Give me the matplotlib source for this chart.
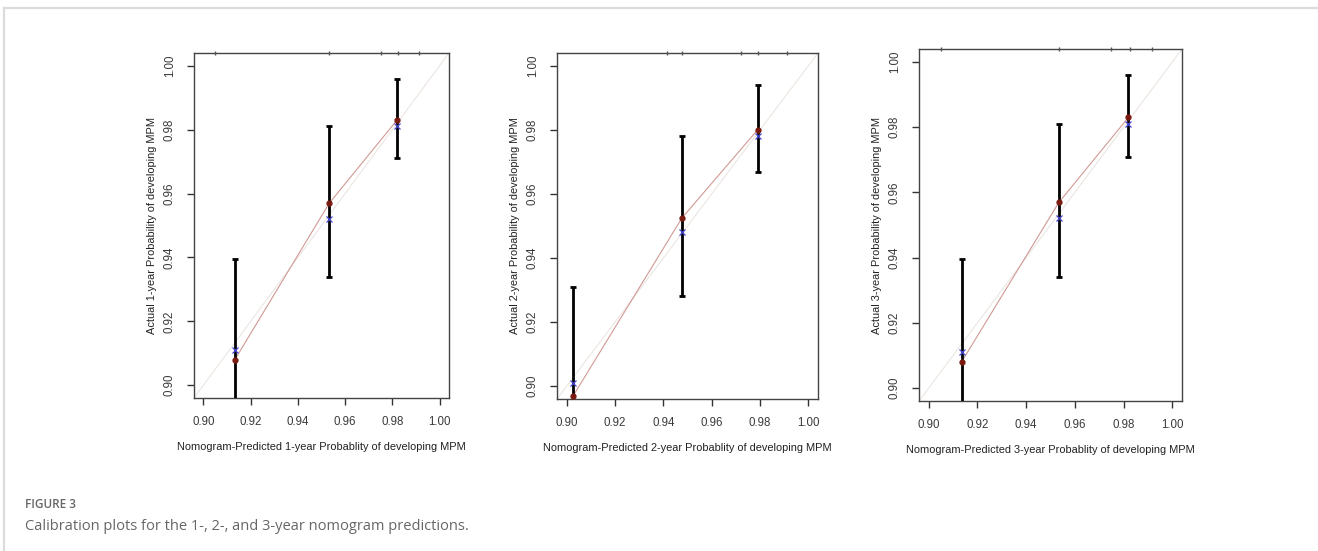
import matplotlib
matplotlib.use("Agg")
import matplotlib.pyplot as plt
from matplotlib.lines import Line2D
import matplotlib.transforms as mtransforms

plt.rcParams['font.family'] = ['Liberation Sans', 'DejaVu Sans']

# data
years = ["1", "2", "3"]
predicted = [
    [0.9133, 0.9533, 0.9820],
    [0.9027, 0.9477, 0.9790],
    [0.9135, 0.9535, 0.9820],
]
observed = [
    [0.908, 0.957, 0.983],
    [0.897, 0.9525, 0.980],
    [0.908, 0.957, 0.983],
]
corrected = [
    [0.911, 0.952, 0.981],
    [0.901, 0.948, 0.978],
    [0.911, 0.952, 0.981],
]
ci_low = [
    [0.880, 0.934, 0.971],
    [0.880, 0.928, 0.967],
    [0.880, 0.934, 0.971],
]
ci_high = [
    [0.9395, 0.981, 0.996],
    [0.931, 0.978, 0.994],
    [0.9395, 0.981, 0.996],
]
rug = [
    [0.905, 0.9533, 0.975, 0.9826, 0.9915],
    [0.9415, 0.9477, 0.972, 0.979, 0.991],
    [0.905, 0.9535, 0.975, 0.9826, 0.9915],
]
ticks = [0.90, 0.92, 0.94, 0.96, 0.98, 1.00]

W, H = 1318, 551
fig = plt.figure(figsize=(W / 100, H / 100), dpi=100)

# axes boxes in pixels: left, right, top, bottom
boxes = [(194, 449, 53, 398), (557, 818, 53, 399), (919, 1182, 49, 401)]

for i, (l, r, t, b) in enumerate(boxes):
    ax = fig.add_axes([l / W, (H - b) / H, (r - l) / W, (b - t) / H])
    ax.set_xlim(0.896, 1.004)
    ax.set_ylim(0.896, 1.004)
    # ideal line
    ax.plot([0.896, 1.004], [0.896, 1.004], color='#ece6e2', lw=0.8, zorder=1)
    # calibration curve
    ax.plot(predicted[i], observed[i], color='#d09a94', lw=0.8, zorder=2)
    # error bars
    ax.errorbar(predicted[i], observed[i],
                yerr=[[o - lo for o, lo in zip(observed[i], ci_low[i])],
                      [hi - o for o, hi in zip(observed[i], ci_high[i])]],
                fmt='none', ecolor='black', elinewidth=2.0, capsize=2.0,
                capthick=2.0, zorder=3)
    ax.plot(predicted[i], observed[i], 'o', color='#7a1a10', ms=3.5, zorder=4)
    ax.plot(predicted[i], corrected[i], 'x', color='#4646d0', ms=4, mew=0.9, zorder=5)
    # rug of predictions at top
    trans = mtransforms.blended_transform_factory(ax.transData, ax.transAxes)
    ax.plot(rug[i], [1.0] * len(rug[i]), '|', color='#555555', ms=3, mew=1.0,
            transform=trans, clip_on=False, zorder=6)

    ax.set_xticks(ticks)
    ax.set_yticks(ticks)
    ax.set_xticklabels([f"{v:.2f}" for v in ticks])
    ax.set_yticklabels([f"{v:.2f}" for v in ticks], rotation=90, va='center')
    ax.tick_params(direction='out', length=5, width=1, color='#333333',
                   labelsize=8.3, labelcolor='#3a3a3a', pad=8)
    for s in ax.spines.values():
        s.set_color('#444444')
        s.set_linewidth(1.0)
    ax.set_xlabel(f"Nomogram-Predicted {years[i]}-year Probablity of developing MPM",
                  fontsize=7.9, color='#222222', labelpad=10)
    ax.set_ylabel(f"Actual {years[i]}-year Probability of developing MPM",
                  fontsize=7.9, color='#222222', labelpad=5)

# page frame lines
fig.add_artist(Line2D([4 / W, 1], [1 - 8 / H, 1 - 8 / H], color='#dcdcdc', lw=1.6))
fig.add_artist(Line2D([4 / W, 4 / W], [0, 1 - 8 / H], color='#dcdcdc', lw=1.6))

fig.text(25 / W, 1 - 505 / H, "FIGURE 3", fontsize=8.5, color='#666666',
         family=['Open Sans', 'DejaVu Sans'], va='center', fontweight='semibold')
fig.text(25 / W, 1 - 526 / H, "Calibration plots for the 1-, 2-, and 3-year nomogram predictions.",
         fontsize=10.5, color='#666666', family=['Open Sans', 'DejaVu Sans'], va='center')

fig.savefig("out.png", dpi=100)
